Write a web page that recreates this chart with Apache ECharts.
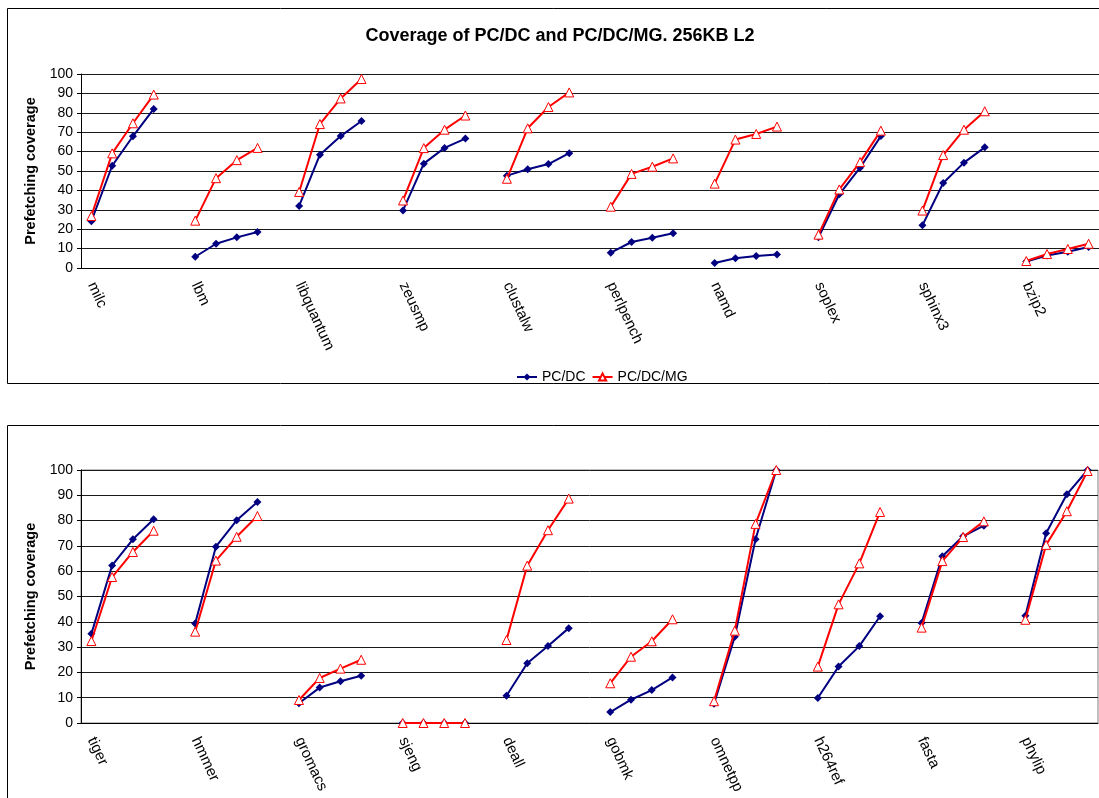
<!DOCTYPE html>
<html>
<head>
<meta charset="utf-8">
<title>Coverage of PC/DC and PC/DC/MG. 256KB L2</title>
<script src="https://cdn.jsdelivr.net/npm/echarts@6/dist/echarts.min.js"></script>
<style>
  html, body { margin: 0; padding: 0; background: #fff; }
  #chart { width: 1099px; height: 798px; }
</style>
</head>
<body>
<div id="chart"></div>
<script>
// Benchmarks of the upper panel, four configurations each
var benchTop = ['milc', 'lbm', 'libquantum', 'zeusmp', 'clustalw', 'perlpench', 'namd', 'soplex', 'sphinx3', 'bzip2'];
var pcdcTop = [
  [24.1, 52.7, 67.9, 82.0],
  [5.8, 12.5, 15.8, 18.6],
  [32.0, 58.4, 68.0, 75.8],
  [29.7, 53.8, 61.9, 66.7],
  [47.6, 50.9, 53.6, 59.2],
  [7.9, 13.4, 15.6, 17.9],
  [2.6, 5.0, 6.2, 7.0],
  [15.8, 38.0, 51.7, 68.0],
  [22.0, 43.8, 54.3, 62.2],
  [3.3, 6.4, 8.4, 10.8]
];
var pcdcmgTop = [
  [26.8, 59.1, 74.6, 89.4],
  [24.4, 46.3, 55.6, 61.9],
  [39.2, 74.2, 87.4, 97.4],
  [34.8, 61.8, 71.3, 78.6],
  [46.0, 72.0, 83.0, 90.5],
  [31.6, 48.5, 52.2, 56.5],
  [43.5, 66.2, 69.1, 72.9],
  [17.2, 40.5, 54.6, 70.8],
  [29.6, 58.2, 71.3, 80.8],
  [3.6, 7.2, 9.8, 12.5]
];

// Benchmarks of the lower panel
var benchBottom = ['tiger', 'hmmer', 'gromacs', 'sjeng', 'deall', 'gobmk', 'omnetpp', 'h264ref', 'fasta', 'phylip'];
var pcdcBottom = [
  [35.3, 62.3, 72.6, 80.5],
  [39.3, 69.7, 80.1, 87.4],
  [7.8, 14.0, 16.5, 18.7],
  [0, 0, 0, 0],
  [10.8, 23.6, 30.4, 37.5],
  [4.3, 9.2, 13.0, 18.0],
  [7.6, 34.1, 72.6, 100],
  [9.9, 22.3, 30.4, 42.2],
  [39.5, 65.9, 73.8, 78.0],
  [42.4, 75.0, 90.4, 100]
];
var pcdcmgBottom = [
  [32.4, 57.7, 67.6, 76.0],
  [36.1, 64.2, 73.6, 81.8],
  [9.1, 17.8, 21.5, 25.0],
  [0, 0, 0, 0],
  [32.8, 62.2, 76.2, 88.7],
  [15.7, 26.2, 32.3, 41.0],
  [8.6, 36.5, 78.7, 100],
  [22.3, 46.9, 63.1, 83.4],
  [37.7, 64.0, 73.5, 79.7],
  [40.8, 70.4, 83.7, 99.6]
];

var yTicks = [0, 10, 20, 30, 40, 50, 60, 70, 80, 90, 100];

// Each benchmark takes four slots, with one empty slot between groups
function categories(names) {
  var out = [];
  names.forEach(function (n, i) {
    out.push(n, '', '', '');
    if (i < names.length - 1) out.push('');
  });
  return out;
}
function padded(groups) {
  var out = [];
  groups.forEach(function (g, i) {
    out.push.apply(out, g);
    if (i < groups.length - 1) out.push(null);
  });
  return out;
}

var FONT = '"Liberation Sans", Arial, sans-serif';
var BLUE = '#000080';
var RED = '#ff0000';

function xAxis(gridIndex, names) {
  return {
    type: 'category',
    gridIndex: gridIndex,
    data: categories(names),
    boundaryGap: true,
    axisLine: { lineStyle: { color: '#000', width: 1 } },
    axisTick: { show: false },
    axisLabel: {
      interval: 0,
      rotate: -65,
      margin: 15,
      color: '#000',
      fontFamily: FONT,
      fontSize: 15
    },
    splitLine: { show: false }
  };
}
function yAxis(gridIndex) {
  return {
    type: 'value',
    gridIndex: gridIndex,
    min: yTicks[0],
    max: yTicks[yTicks.length - 1],
    interval: yTicks[1] - yTicks[0],
    name: 'Prefetching coverage',
    nameLocation: 'middle',
    nameGap: 38,
    nameTextStyle: { color: '#000', fontFamily: FONT, fontSize: 14.5, fontWeight: 'bold' },
    axisLine: { show: true, lineStyle: { color: '#000', width: 1 } },
    axisTick: { show: true, length: 4, lineStyle: { color: '#000' } },
    axisLabel: { color: '#000', fontFamily: FONT, fontSize: 14, margin: 8 },
    splitLine: { show: true, lineStyle: { color: '#1a1a1a', width: 1 } }
  };
}
function series(name, gridIndex, groups, color, symbol) {
  return {
    name: name,
    type: 'line',
    xAxisIndex: gridIndex,
    yAxisIndex: gridIndex,
    data: padded(groups),
    connectNulls: false,
    symbol: symbol,
    symbolSize: symbol === 'diamond' ? 8 : 9,
    showAllSymbol: true,
    lineStyle: { color: color, width: 2 },
    itemStyle: symbol === 'diamond'
      ? { color: color }
      : { color: '#fff', borderColor: color, borderWidth: 1 },
    animation: false,
    z: symbol === 'diamond' ? 2 : 3
  };
}

var chart = echarts.init(document.getElementById('chart'), null, { renderer: 'canvas' });
chart.setOption({
  backgroundColor: '#fff',
  animation: false,
  title: {
    text: 'Coverage of PC/DC and PC/DC/MG. 256KB L2',
    left: 555,
    top: 22,
    textAlign: 'center',
    textStyle: { color: '#000', fontFamily: FONT, fontSize: 18, fontWeight: 'bold' }
  },
  legend: {
    data: ['PC/DC', 'PC/DC/MG'],
    left: 511,
    top: 365,
    itemWidth: 20,
    itemHeight: 9,
    itemGap: 6,
    textStyle: { color: '#000', fontFamily: FONT, fontSize: 14 }
  },
  graphic: [
    { type: 'rect', shape: { x: 7.5, y: 8.5, width: 1200, height: 375 }, style: { fill: 'none', stroke: '#000', lineWidth: 1 }, silent: true, z: -10 },
    { type: 'rect', shape: { x: 7.5, y: 425.5, width: 1200, height: 500 }, style: { fill: 'none', stroke: '#000', lineWidth: 1 }, silent: true, z: -10 }
  ],
  grid: [
    { left: 81, top: 74, width: 1019, height: 194, containLabel: false },
    { left: 81, top: 470, width: 1017, height: 253, containLabel: false, show: true, borderColor: '#808080', borderWidth: 1, backgroundColor: 'transparent' }
  ],
  xAxis: [xAxis(0, benchTop), xAxis(1, benchBottom)],
  yAxis: [yAxis(0), yAxis(1)],
  series: [
    series('PC/DC', 0, pcdcTop, BLUE, 'diamond'),
    series('PC/DC/MG', 0, pcdcmgTop, RED, 'triangle'),
    series('PC/DC', 1, pcdcBottom, BLUE, 'diamond'),
    series('PC/DC/MG', 1, pcdcmgBottom, RED, 'triangle')
  ]
});
</script>
</body>
</html>
